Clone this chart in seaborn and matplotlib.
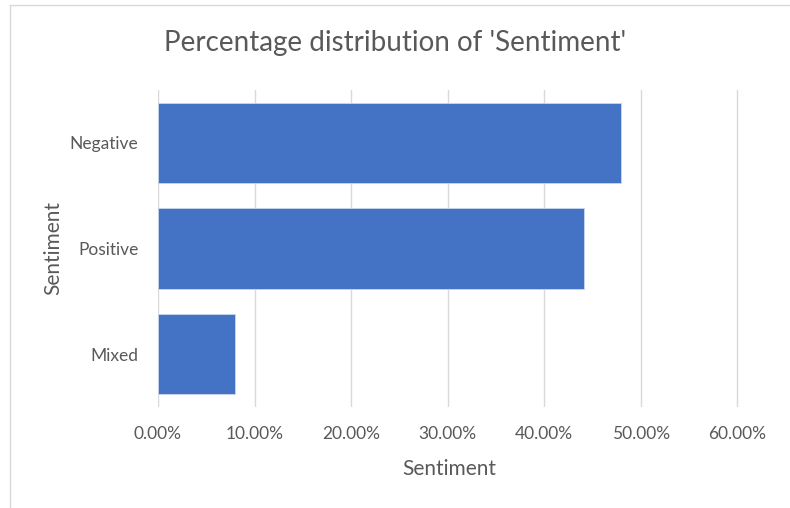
import matplotlib
matplotlib.use("Agg")
import matplotlib.pyplot as plt
from matplotlib.ticker import FuncFormatter
import seaborn as sns
import pandas as pd

categories = ["Negative", "Positive", "Mixed"]
shares = [0.479, 0.441, 0.080]
x_ticks = [0.0, 0.1, 0.2, 0.3, 0.4, 0.5, 0.6]

sns.set_theme(style="white")
plt.rcParams["font.family"] = ["Lato", "DejaVu Sans"]

text_col = "#595959"
df = pd.DataFrame({"Sentiment": categories, "Share": shares})

fig = plt.figure(figsize=(7.9, 5.08), dpi=100)
ax = fig.add_axes([0.2, 0.199, 0.737, 0.624])

sns.barplot(data=df, x="Share", y="Sentiment", order=categories, orient="h",
            color="#4472C4", saturation=1, width=0.76, edgecolor="#c9d7f0",
            linewidth=0.6, ax=ax, zorder=3)

ax.set_xlim(0, 0.603)
ax.set_xticks(x_ticks)
ax.xaxis.set_major_formatter(FuncFormatter(lambda v, _: f"{v * 100:.2f}%"))
ax.grid(axis="x", color="#d9d9d9", linewidth=1.0, zorder=0)
ax.grid(axis="y", visible=False)
for s in ax.spines.values():
    s.set_visible(False)
ax.tick_params(axis="both", length=0, labelsize=12.5, labelcolor=text_col)
ax.tick_params(axis="x", pad=14)
ax.tick_params(axis="y", pad=14)

ax.set_xlabel("Sentiment", fontsize=15, color=text_col, labelpad=12)
ax.set_ylabel("Sentiment", fontsize=15, color=text_col, labelpad=5)

fig.text(0.5, 0.915, "Percentage distribution of 'Sentiment'", ha="center",
         va="center", fontsize=20, color=text_col)

# chart area frame
fig.add_artist(plt.Line2D([0.0127, 0.0127], [0.0, 0.99], transform=fig.transFigure,
                          color="#d9d9d9", linewidth=1))
fig.add_artist(plt.Line2D([0.0127, 1.0], [0.99, 0.99], transform=fig.transFigure,
                          color="#d9d9d9", linewidth=1))

fig.savefig("out.png", dpi=100, facecolor="white")
